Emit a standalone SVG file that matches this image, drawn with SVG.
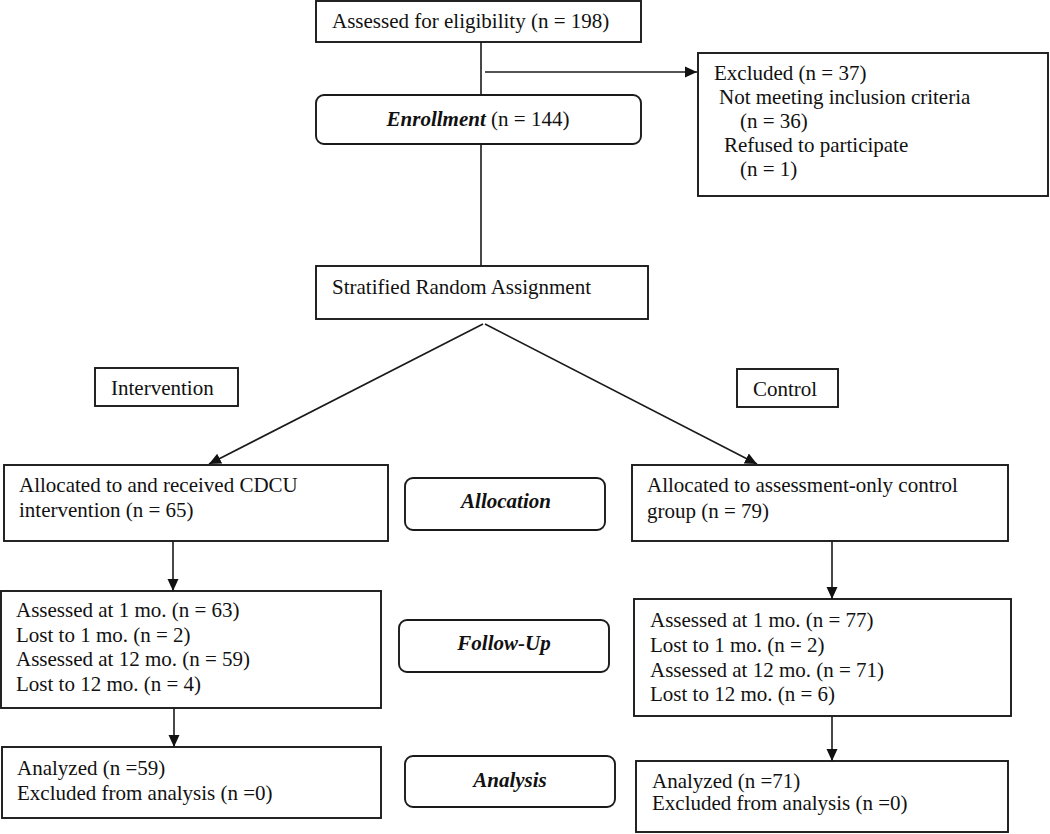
<svg xmlns="http://www.w3.org/2000/svg" width="1050" height="834" viewBox="0 0 1050 834">
<style>
  .box { fill: #fff; stroke: #1a1a1a; stroke-width: 1.9; }
  .t { font-family: "Liberation Serif", "Times New Roman", serif; font-size: 21px; fill: #111; }
  .bi { font-weight: bold; font-style: italic; }
  .c { fill: none; stroke: #1a1a1a; stroke-width: 1.6; }
</style>
<defs>
  <marker id="arr" markerUnits="userSpaceOnUse" markerWidth="13" markerHeight="13" refX="12" refY="6.5" orient="auto">
    <path d="M0,1 L12,6.5 L0,12 z" fill="#111"/>
  </marker>
</defs>
<rect width="1050" height="834" fill="#fff"/>

<g id="connectors">
  <line class="c" x1="481" y1="42" x2="481" y2="95"/>
  <line class="c" x1="485" y1="72" x2="697" y2="72" marker-end="url(#arr)"/>
  <line class="c" x1="481" y1="144" x2="481" y2="266"/>
  <line class="c" x1="483" y1="324" x2="209" y2="464" marker-end="url(#arr)"/>
  <line class="c" x1="485" y1="324" x2="757" y2="464" marker-end="url(#arr)"/>
  <line class="c" x1="173" y1="541" x2="173" y2="591" marker-end="url(#arr)"/>
  <line class="c" x1="174" y1="708" x2="174" y2="747" marker-end="url(#arr)"/>
  <line class="c" x1="832" y1="541" x2="832" y2="599" marker-end="url(#arr)"/>
  <line class="c" x1="832" y1="716" x2="832" y2="761" marker-end="url(#arr)"/>
</g>

<g id="assessed">
  <rect class="box" x="316" y="1" width="325" height="41"/>
  <text class="t" x="332" y="28">Assessed for eligibility (n = 198)</text>
</g>

<g id="excluded">
  <rect class="box" x="698" y="53" width="350" height="143"/>
  <text class="t" x="714" y="80">Excluded (n = 37)</text>
  <text class="t" x="719" y="104">Not meeting inclusion criteria</text>
  <text class="t" x="740" y="128">(n = 36)</text>
  <text class="t" x="724" y="152">Refused to participate</text>
  <text class="t" x="740" y="176">(n = 1)</text>
</g>

<g id="enrollment">
  <rect class="box" x="316" y="95" width="325" height="49" rx="8"/>
  <text class="t" x="478" y="126" text-anchor="middle"><tspan class="bi">Enrollment</tspan> (n = 144)</text>
</g>

<g id="stratified">
  <rect class="box" x="316" y="266" width="332" height="53"/>
  <text class="t" x="332" y="294">Stratified Random Assignment</text>
</g>

<g id="intervention">
  <rect class="box" x="95" y="368" width="143" height="38"/>
  <text class="t" x="111" y="395">Intervention</text>
</g>

<g id="control">
  <rect class="box" x="737" y="369" width="101" height="38"/>
  <text class="t" x="753" y="396">Control</text>
</g>

<g id="alloc-left">
  <rect class="box" x="4" y="465" width="384" height="76"/>
  <text class="t" x="19" y="492">Allocated to and received CDCU</text>
  <text class="t" x="19" y="517">intervention (n = 65)</text>
</g>

<g id="allocation">
  <rect class="box" x="405" y="478" width="200" height="52" rx="8"/>
  <text class="t bi" x="506" y="508" text-anchor="middle">Allocation</text>
</g>

<g id="alloc-right">
  <rect class="box" x="632" y="465" width="376" height="76"/>
  <text class="t" x="647" y="492">Allocated to assessment-only control</text>
  <text class="t" x="647" y="518">group (n = 79)</text>
</g>

<g id="followup-left">
  <rect class="box" x="1" y="591" width="380" height="117"/>
  <text class="t" x="16" y="617">Assessed at 1 mo. (n = 63)</text>
  <text class="t" x="16" y="642">Lost to 1 mo. (n = 2)</text>
  <text class="t" x="16" y="666">Assessed at 12 mo. (n = 59)</text>
  <text class="t" x="16" y="691">Lost to 12 mo. (n = 4)</text>
</g>

<g id="followup">
  <rect class="box" x="399" y="620" width="210" height="52" rx="8"/>
  <text class="t bi" x="504" y="650" text-anchor="middle">Follow-Up</text>
</g>

<g id="followup-right">
  <rect class="box" x="634" y="599" width="377" height="117"/>
  <text class="t" x="650" y="627">Assessed at 1 mo. (n = 77)</text>
  <text class="t" x="650" y="652">Lost to 1 mo. (n = 2)</text>
  <text class="t" x="650" y="677">Assessed at 12 mo. (n = 71)</text>
  <text class="t" x="650" y="701">Lost to 12 mo. (n = 6)</text>
</g>

<g id="analysis-left">
  <rect class="box" x="2" y="747" width="379" height="71"/>
  <text class="t" x="17" y="775">Analyzed (n =59)</text>
  <text class="t" x="17" y="800">Excluded from analysis (n =0)</text>
</g>

<g id="analysis">
  <rect class="box" x="405" y="756" width="210" height="51" rx="8"/>
  <text class="t bi" x="510" y="787" text-anchor="middle">Analysis</text>
</g>

<g id="analysis-right">
  <rect class="box" x="636" y="761" width="372" height="71"/>
  <text class="t" x="652" y="788">Analyzed (n =71)</text>
  <text class="t" x="652" y="810">Excluded from analysis (n =0)</text>
</g>
</svg>
